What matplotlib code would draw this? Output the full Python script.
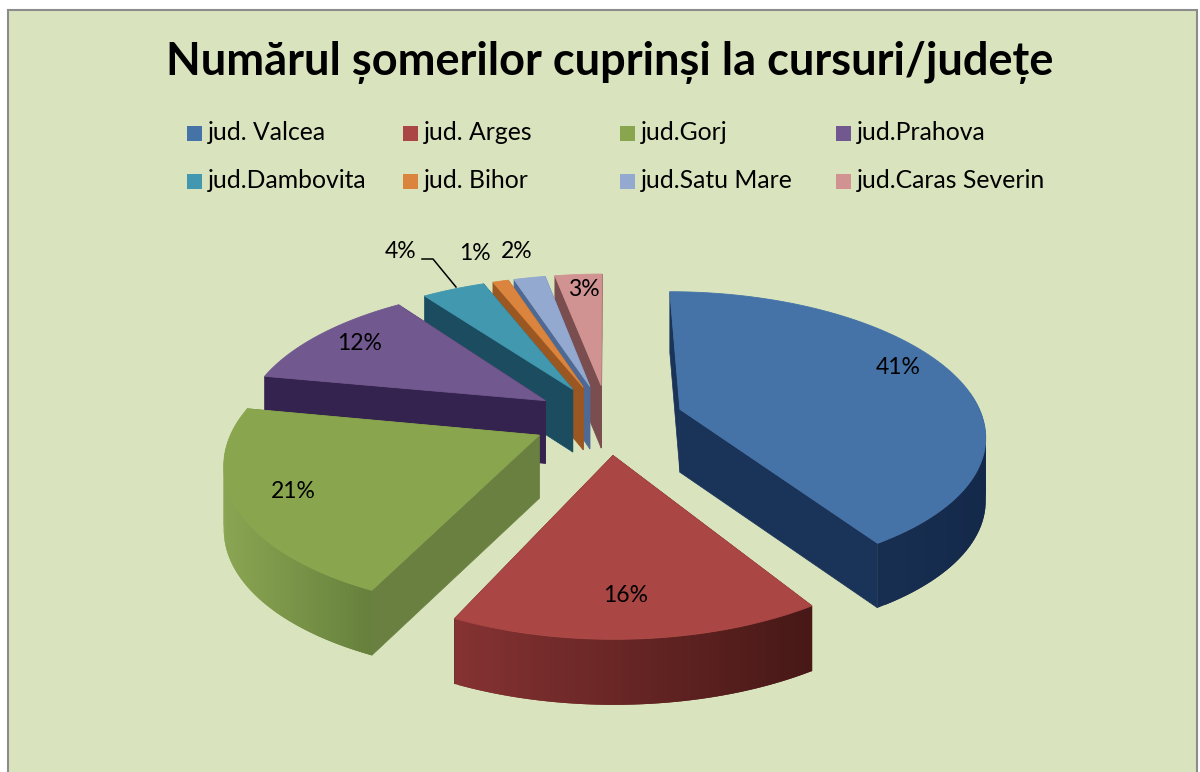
import numpy as np
import matplotlib
matplotlib.use('Agg')
import matplotlib.pyplot as plt
from matplotlib.colors import to_rgb
from matplotlib.patches import Polygon, Rectangle

plt.rcParams['font.family'] = ['Lato', 'DejaVu Sans']

# Data
judete = ['jud. Valcea', 'jud. Arges', 'jud.Gorj', 'jud.Prahova',
          'jud.Dambovita', 'jud. Bihor', 'jud.Satu Mare', 'jud.Caras Severin']
procente = [41, 16, 21, 12, 4, 1, 2, 3]
titlu = 'Numărul șomerilor cuprinși la cursuri/județe'

culori = ['#4572A7', '#AA4643', '#89A54E', '#71588F', '#4198AF', '#DB843D', '#93A9CF', '#D19392']
pereti_st = ['#1F3A5F', '#853232', '#8AA552', '#35234F', '#1D5165', '#A85E25', '#5F7AA5', '#8A5A5A']
pereti_dr = ['#14294A', '#461816', '#66803C', '#35234F', '#1D5165', '#A85E25', '#5F7AA5', '#8A5A5A']
taieturi = ['#1A3358', '#4A1A18', '#6A8040', '#35234F', '#1B4C60', '#9A5722', '#4E6A94', '#7A4E4E']

# Projection of the tilted disk
cx, cy = 608, 419
raza, turtire, persp = 303, 0.462, 0.165
grosime = 65
explodare = 0.25


def proj(x, y, jos=0.0):
    d = 1 + persp * y
    return cx + raza * x / d, cy - raza * turtire * y / d + jos * (0.97 - 0.03 * y)


def amesteca(a, b, t):
    a, b = np.array(to_rgb(a)), np.array(to_rgb(b))
    return tuple(a + (b - a) * t)


fig = plt.figure(figsize=(12, 7.72), dpi=100)
ax = fig.add_axes([0, 0, 1, 1])
ax.set_xlim(0, 1200)
ax.set_ylim(772, 0)
ax.axis('off')
ax.add_patch(Rectangle((8, 10), 1189, 800, fc='#D9E4BE', ec='#8C8C8C', lw=1.5))

ax.text(610, 63, titlu, ha='center', va='center', fontsize=32.5, fontweight='bold', color='black')

# Legend, two rows of four
col_x = [187, 403, 620, 836]
rand_y = [133, 181]
for i, nume in enumerate(judete):
    x = col_x[i % 4]
    y = rand_y[i // 4]
    ax.add_patch(Rectangle((x, y - 7), 15, 15, fc=culori[i], ec='none'))
    ax.text(x + 21, y, nume, ha='left', va='center', fontsize=17.8, color='black')

# Slices
margini = np.cumsum([0] + procente) / 100 * 2 * np.pi
ordine = [7, 6, 5, 4, 3, 2, 0, 1]
for i in ordine:
    a0, a1 = margini[i], margini[i + 1]
    am = (a0 + a1) / 2
    ox, oy = explodare * np.sin(am), explodare * np.cos(am)
    t = np.linspace(a0, a1, 90)
    xs, ys = ox + np.sin(t), oy + np.cos(t)
    px, py = proj(xs, ys)
    qx, qy = proj(xs, ys, grosime)
    ax0, ay0 = proj(ox, oy)
    bx0, by0 = proj(ox, oy, grosime)

    # cut faces
    for j in (0, -1):
        ax.add_patch(Polygon([(ax0, ay0), (px[j], py[j]), (qx[j], qy[j]), (bx0, by0)],
                             fc=taieturi[i], ec=taieturi[i], lw=0.5, zorder=2))
    # rim, darker towards the right
    n = len(t)
    vizibil = [j for j in range(n - 1) if np.cos(t[j]) <= 0.12]
    for j in sorted(vizibil, key=lambda k: -px[k]):
        k = min(j + 1, n - 1)
        c = amesteca(pereti_st[i], pereti_dr[i], (px[j] - px.min()) / max(px.max() - px.min(), 1))
        l = max(j - 1, 0)
        ax.add_patch(Polygon([(px[l], py[l]), (px[k], py[k]), (qx[k], qy[k]), (qx[l], qy[l])],
                             fc=c, ec='none', zorder=2))
    # top face
    ax.add_patch(Polygon(np.column_stack([np.r_[ax0, px], np.r_[ay0, py]]),
                         fc=culori[i], ec=culori[i], lw=0.6, zorder=3))

# Percentage labels
et_x = [898, 626, 293, 360, 401, 475, 517, 584]
et_y = [367, 596, 491, 344, 252, 254, 252, 290]
for p, x, y in zip(procente, et_x, et_y):
    ax.text(x, y, f'{p}%', ha='center', va='center', fontsize=16.5, color='black', zorder=5)
ax.plot([422, 433, 456], [259, 259, 287], color='black', lw=1.1, zorder=5)

fig.savefig('out.png', dpi=100)
